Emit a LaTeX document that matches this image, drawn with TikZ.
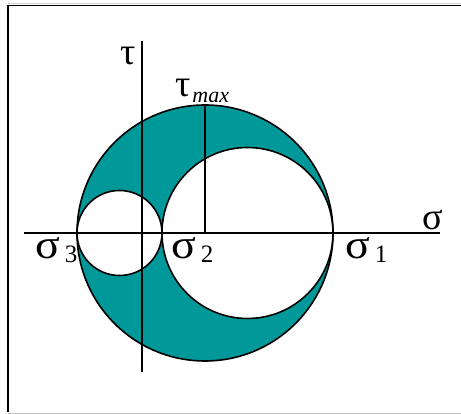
\documentclass[tikz,border=0pt]{standalone}
\usepackage{fontspec}
\setmainfont{Liberation Serif}
\usepackage{graphicx}
\usepackage{tikz}
\definecolor{mohrteal}{RGB}{0,152,152}

\newcommand{\greekfont}{\fontsize{38}{38}\selectfont}
\newcommand{\indexfont}{\fontsize{25}{25}\selectfont}
\newcommand{\maxfont}{\fontsize{22}{22}\selectfont\itshape}
\newcommand{\widesig}{\scalebox{1.12}[1]{\fontsize{41}{41}\selectfont σ}}

\begin{document}
\begin{tikzpicture}[x=1pt,y=1pt,
  circ/.style={draw=black,line width=1.6pt},
  axis/.style={draw=black,line width=1.4pt},
  lbl/.style={font=\greekfont,inner sep=0pt,anchor=base west},
  ]
\useasboundingbox (-142,-181) rectangle (319,233);

% Frame
\draw[gray!35,line width=1pt] (-134,229.5) -- (319,229.5);
\draw[line width=1.6pt] (-134,-179) -- (-134,227.5) -- (319,227.5);
\draw[gray!50,line width=1pt] (-134,-180.5) -- (319,-180.5);

% Mohr circles
\coordinate (c1) at (63,0);
\coordinate (c2) at (-22.5,0);
\coordinate (c3) at (105.5,0);
\fill[mohrteal] (c1) circle (128);
\fill[white] (c2) circle (42.5);
\fill[white] (c3) circle (85.5);
\draw[circ] (c1) circle (128);
\draw[circ] (c2) circle (42.5);
\draw[circ] (c3) circle (85.5);

% Axes
\coordinate (s0) at (-118,0);
\coordinate (s9) at (298,0);
\coordinate (t0) at (0,-139);
\coordinate (t9) at (0,192);
\draw[axis] (s0) -- (s9);
\draw[axis] (t0) -- (t9);

% tau max
\coordinate (tm) at (63,128);
\draw[axis] (c1) -- (tm);

% Labels
\node[lbl] (ltau) at (-22,168) {τ};
\node[lbl] (ltaumax) at (33,136) {τ\hspace{2pt}\raisebox{-6pt}{\maxfont max}};
\node[lbl] (lsig) at (280,3) {σ};
\node[lbl] (lsig3) at (-107,-26) {\widesig\hspace{5pt}\raisebox{-4pt}{\indexfont 3}};
\node[lbl] (lsig2) at (29,-26) {\widesig\hspace{5pt}\raisebox{-4pt}{\indexfont 2}};
\node[lbl] (lsig1) at (203,-26) {\widesig\hspace{5pt}\raisebox{-4pt}{\indexfont 1}};
\end{tikzpicture}
\end{document}
